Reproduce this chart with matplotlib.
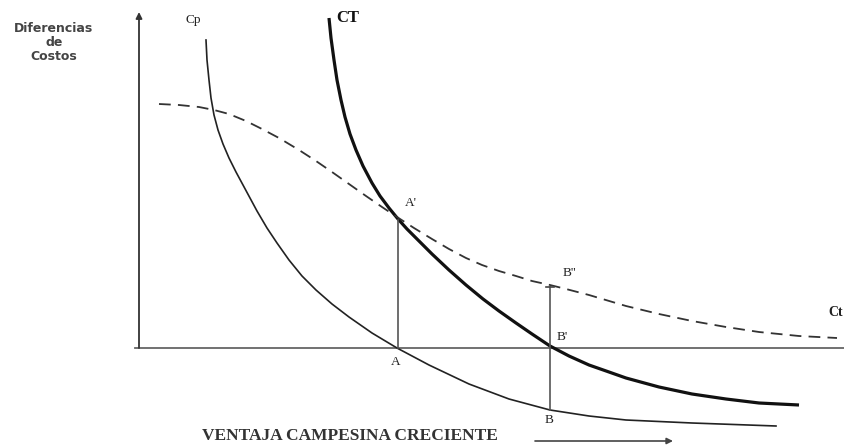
import matplotlib
matplotlib.use('Agg')
import matplotlib.pyplot as plt

# Curves (x = ventaja, y = diferencia de costos),
# origin at the crossing of the two axes
cp_x = [67, 68, 70, 72, 75, 79, 84, 90, 97, 104, 111, 118, 128, 138, 150, 163, 177,
        193, 210, 233, 258, 290, 330, 370, 411, 450, 487, 553, 637]
cp_y = [308, 288, 268, 250, 233, 218, 204, 190, 176, 163, 150, 137, 120, 105, 88, 72, 58,
        44, 31, 15, 0, -17, -36, -51, -62, -68, -72, -75, -78]

ct_x = [190, 192, 195, 198, 202, 206, 211, 217, 224, 233, 241, 250, 259, 268, 276,
        293, 310, 327, 344, 360, 377, 393, 411, 430, 450, 470, 487, 520, 553, 587,
        620, 660]
ct_y = [330, 310, 288, 268, 248, 231, 214, 198, 182, 165, 152, 140, 129, 119, 111,
        94, 78, 63, 49, 37, 25, 14, 2, -8, -17, -24, -30, -39, -46, -51,
        -55, -57]

ct2_x = [20, 40, 60, 75, 90, 107, 123, 140, 160, 177, 193, 210, 227, 243, 258, 275,
         293, 310, 327, 343, 360, 377, 393, 411, 427, 450, 487, 520, 553, 587, 620,
         660, 698]
ct2_y = [244, 243, 241, 238, 234, 227, 219, 210, 198, 187, 176, 164, 152, 141, 131, 120,
         109, 99, 90, 83, 77, 72, 67, 63, 59, 53, 42, 34, 27, 21, 16,
         12, 10]

# vertical segments A-A' and B-B''
seg_x = [259, 411]
seg_lo = [0, -62]
seg_hi = [128, 61]

serif = 'Liberation Serif'

fig = plt.figure(figsize=(8.45, 4.46), dpi=100)
ax = fig.add_axes([0, 0, 1, 1])
ax.set_xlim(-139, 706)
ax.set_ylim(-98, 348)
ax.axis('off')

axis_col = '#666666'
# axes
ax.plot([-4, 706], [0, 0], color=axis_col, lw=1.3)
ax.annotate('', xy=(0, 336), xytext=(0, 0),
            arrowprops=dict(arrowstyle='-|>', color='#333333', lw=1.3,
                            mutation_scale=9, shrinkA=0, shrinkB=0))

# curves
ax.plot(cp_x, cp_y, color='#222222', lw=1.2, solid_joinstyle='round')
ax.plot(ct_x, ct_y, color='#111111', lw=2.3, solid_joinstyle='round',
        solid_capstyle='butt')
ax.plot(ct2_x, ct2_y, color='#333333', lw=1.3, dashes=(6.5, 4))

for x, lo, hi in zip(seg_x, seg_lo, seg_hi):
    ax.plot([x, x], [lo, hi], color='#555555', lw=1.2)
ax.plot([seg_x[1] - 4, seg_x[1] + 4], [seg_hi[1], seg_hi[1]], color='#444444', lw=1.2)

# labels
lab = dict(family=serif, fontsize=9.5, color='#222222')
ax.text(54, 328, 'Cp', ha='center', va='center', **lab)
ax.text(209, 330, 'CT', ha='center', va='center', family=serif, fontsize=12,
        fontweight='bold', color='#111111')
ax.text(272, 145, "A'", ha='center', va='center', **lab)
ax.text(257, -14, 'A', ha='center', va='center', **lab)
ax.text(430, 75, "B''", ha='center', va='center', **lab)
ax.text(423, 11, "B'", ha='center', va='center', **lab)
ax.text(410, -72, 'B', ha='center', va='center', **lab)
ax.text(689, 35, 'Ct', ha='left', va='center', family=serif, fontsize=10,
        fontweight='bold', color='#222222')

ax.text(-85, 305, 'Diferencias\nde\nCostos', ha='center', va='center',
        family='DejaVu Sans', fontsize=9, fontweight='bold',
        color='#444444', linespacing=1.1)

ax.text(211, -88, 'VENTAJA CAMPESINA CRECIENTE', ha='center', va='center',
        family=serif, fontsize=12.5, fontweight='bold', color='#333333')
ax.annotate('', xy=(534, -93), xytext=(396, -93),
            arrowprops=dict(arrowstyle='-|>', color='#444444', lw=1.2,
                            mutation_scale=9, shrinkA=0, shrinkB=0))

fig.savefig('out.png', dpi=100)
